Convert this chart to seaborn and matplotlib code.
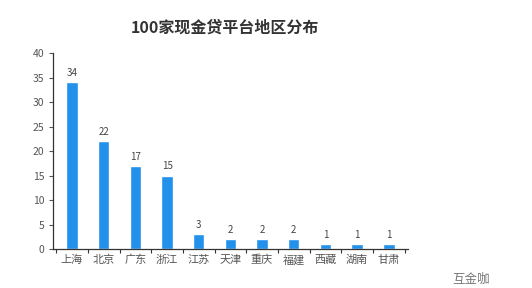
import matplotlib
matplotlib.use("Agg")
import matplotlib.pyplot as plt
import seaborn as sns
import pandas as pd
import numpy as np

regions = ["上海", "北京", "广东", "浙江", "江苏", "天津", "重庆", "福建", "西藏", "湖南", "甘肃"]
counts = [34, 22, 17, 15, 3, 2, 2, 2, 1, 1, 1]
yticks = [0, 5, 10, 15, 20, 25, 30, 35, 40]
title = "100家现金贷平台地区分布"
watermark = "互金咖"

sns.set_theme(style="white")
plt.rcParams['font.family'] = ['Noto Sans CJK SC', 'DejaVu Sans']

df = pd.DataFrame({"region": regions, "count": counts})

fig = plt.figure(figsize=(5.32, 2.88), dpi=100)
ax = fig.add_axes([0.0996, 0.135, 0.667, 0.681])
sns.barplot(data=df, x="region", y="count", color="#2291EC", saturation=1,
            width=0.36, ax=ax)

ax.set_ylim(0, 40)
ax.set_xlim(-0.6, len(regions) - 0.4)
ax.set_yticks(yticks)
ax.set_xlabel("")
ax.set_ylabel("")
ax.tick_params(axis="y", labelsize=7.5, colors="#555555", length=3, width=0.8, direction="out", left=True, pad=3)
ax.tick_params(axis="x", labelsize=8, colors="#555555", length=0, pad=4)
ax.set_xticks(np.arange(-0.5, len(regions) + 0.5), minor=True)
ax.tick_params(axis="x", which="minor", length=3, width=0.8, color="#333333", bottom=True, direction="out")
for lab in ax.get_yticklabels():
    lab.set_color("#555555")
for s in ["top", "right"]:
    ax.spines[s].set_visible(False)
for s in ["left", "bottom"]:
    ax.spines[s].set_color("#333333")
    ax.spines[s].set_linewidth(0.9)

for i, v in enumerate(counts):
    ax.annotate(str(v), (i, v), xytext=(0, 3), textcoords="offset points",
                ha="center", va="bottom", fontsize=7, color="#444444")

fig.text(0.423, 0.905, title, ha="center", va="center", fontsize=11.5, fontweight="bold", color="#333333")
fig.text(0.885, 0.03, watermark, ha="center", va="center", fontsize=9, color="#777777")

fig.savefig("out.png", dpi=100, facecolor="white")
